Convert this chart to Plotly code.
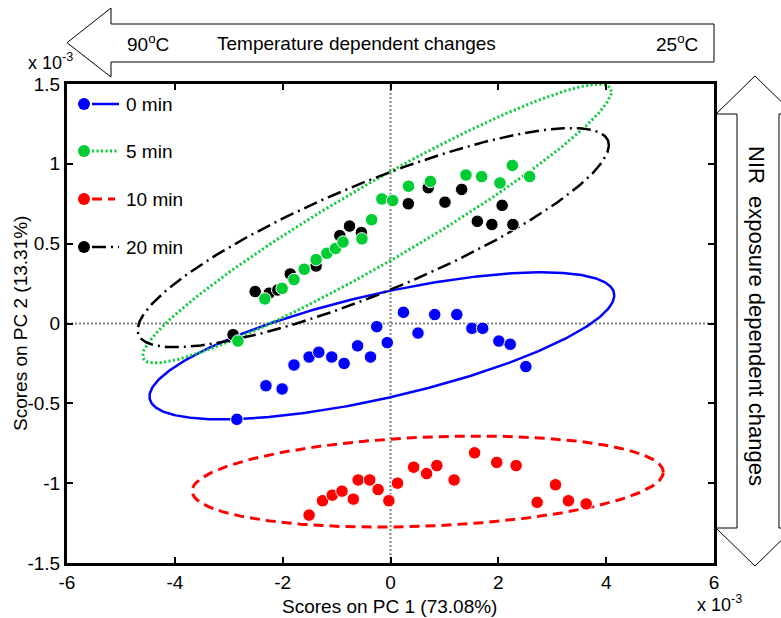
import numpy as np
import plotly.graph_objects as go

# ---------------- data (scores, units of 1e-3) ----------------
x_0min = [-2.85, -2.31, -2.01, -1.79, -1.51, -1.33, -1.09, -0.86, -0.61, -0.37, -0.255,
          -0.06, 0.24, 0.51, 0.82, 1.23, 1.51, 1.71, 2.01, 2.22, 2.51]
y_0min = [-0.60, -0.39, -0.41, -0.26, -0.21, -0.18, -0.21, -0.25, -0.14, -0.21, -0.02,
          -0.12, 0.07, -0.06, 0.056, 0.056, -0.03, -0.03, -0.11, -0.13, -0.27]

x_5min = [-2.83, -2.33, -2.01, -1.79, -1.60, -1.38, -1.18, -1.02, -0.88, -0.53, -0.35,
          -0.16, 0.04, 0.335, 0.74, 1.40, 1.69, 2.03, 2.26, 2.58]
y_5min = [-0.11, 0.154, 0.22, 0.275, 0.34, 0.40, 0.44, 0.47, 0.51, 0.53, 0.65,
          0.78, 0.77, 0.86, 0.89, 0.93, 0.92, 0.88, 0.99, 0.92]

x_10min = [-1.51, -1.26, -1.08, -0.90, -0.69, -0.60, -0.385, -0.23, -0.03, 0.13, 0.43,
           0.67, 0.86, 1.18, 1.56, 1.97, 2.33, 2.72, 3.06, 3.30, 3.63]
y_10min = [-1.20, -1.11, -1.075, -1.05, -1.10, -0.98, -0.98, -1.04, -1.11, -1.00, -0.90,
           -0.94, -0.89, -0.98, -0.81, -0.87, -0.89, -1.12, -1.01, -1.11, -1.13]

x_20min = [-2.92, -2.51, -2.25, -2.09, -1.86, -1.38, -0.94, -0.76, -0.54, 0.33, 0.70,
           1.01, 1.32, 1.61, 1.88, 2.07, 2.27]
y_20min = [-0.07, 0.20, 0.19, 0.21, 0.31, 0.36, 0.55, 0.61, 0.57, 0.75, 0.85,
           0.76, 0.84, 0.64, 0.62, 0.74, 0.62]

series_names = ["0 min", "5 min", "10 min", "20 min"]
series_colors = ["#0000ff", "#00cc33", "#ff0000", "#000000"]

# confidence ellipses: centre, offset of right-most point, vertical half-chord at centre
ell_cx = [-0.16, -0.25, 0.69, -0.32]
ell_cy = [-0.14, 0.626, -0.99, 0.538]
ell_dx = [4.31, 4.345, 4.37, 4.37]
ell_dy = [0.317, 0.827, 0.059, 0.578]
ell_h = [0.334, 0.28, 0.279, 0.37]
ell_dash = ["solid", "2px,2.5px", "10px,6px", "14px,5px,2px,5px"]
ell_width = [2.5, 3, 3, 2.5]

x_ticks = [-6, -4, -2, 0, 2, 4, 6]
x_ticktext = ["-6", "-4", "-2", "0", "2", "4", "6"]
y_ticks = [-1.5, -1, -0.5, 0, 0.5, 1, 1.5]
y_ticktext = ["-1.5", "-1", "-0.5", "0", "0.5", "1", "1.5"]

FONT = "Liberation Sans, Arial, sans-serif"
W, H = 781, 618
L, R, T, B = 67, 714, 84, 563


def pxx(x):
    return (x - L) / (R - L)


def pxy(y):
    return (B - y) / (B - T)


fig = go.Figure()

# ellipses
t = np.linspace(0, 2 * np.pi, 400)
for i in range(4):
    ex = ell_cx[i] + ell_dx[i] * np.cos(t)
    ey = ell_cy[i] + ell_dy[i] * np.cos(t) + ell_h[i] * np.sin(t)
    fig.add_trace(go.Scatter(x=ex, y=ey, mode="lines",
                             line=dict(color=series_colors[i], width=ell_width[i], dash=ell_dash[i]),
                             hoverinfo="skip", showlegend=False))

# points (black first, green over it)
pts = [(x_20min, y_20min, 3), (x_5min, y_5min, 1), (x_0min, y_0min, 0), (x_10min, y_10min, 2)]
for xs, ys, i in pts:
    fig.add_trace(go.Scatter(x=xs, y=ys, mode="markers", name=series_names[i],
                             marker=dict(size=12.5, color=series_colors[i],
                                         line=dict(color="white", width=1)),
                             showlegend=False))

shapes = []
# dotted zero lines
shapes.append(dict(type="line", xref="x", yref="paper", x0=0, x1=0, y0=0, y1=1,
                   line=dict(color="#808080", width=2, dash="2px,2px"), layer="below"))
shapes.append(dict(type="line", xref="paper", yref="y", x0=0, x1=1, y0=0, y1=0,
                   line=dict(color="#808080", width=2, dash="2px,2px"), layer="below"))

# manual legend
leg_rows = [104, 151, 199, 247]
leg_line_end = [119, 118, 115, 119]
for i in range(4):
    yy = pxy(leg_rows[i])
    shapes.append(dict(type="line", xref="paper", yref="paper", x0=pxx(92), x1=pxx(leg_line_end[i]),
                       y0=yy, y1=yy, line=dict(color=series_colors[i], width=ell_width[i],
                                               dash=ell_dash[i])))
    shapes.append(dict(type="circle", xref="paper", yref="paper", xsizemode="pixel",
                       ysizemode="pixel", xanchor=pxx(84), yanchor=yy, x0=-6, x1=6, y0=-6, y1=6,
                       fillcolor=series_colors[i], line=dict(color=series_colors[i], width=0)))

# top arrow (left-pointing)
ta = [(67, 42.7), (111, 8), (111, 24), (714, 24), (714, 62), (111, 62), (111, 77)]
path = "M " + " L ".join(f"{pxx(a)},{pxy(b)}" for a, b in ta) + " Z"
shapes.append(dict(type="path", xref="paper", yref="paper", path=path,
                   line=dict(color="black", width=1), fillcolor="white"))

# right arrow (double-headed, vertical)
ra = [(755, 76), (794, 114), (779, 114), (779, 528), (794, 528), (755, 566),
      (716, 528), (737, 528), (737, 114), (716, 114)]
path = "M " + " L ".join(f"{pxx(a)},{pxy(b)}" for a, b in ra) + " Z"
shapes.append(dict(type="path", xref="paper", yref="paper", path=path,
                   line=dict(color="black", width=1), fillcolor="white"))

ann = []
for i in range(4):
    ann.append(dict(xref="paper", yref="paper", x=pxx(124), y=pxy(leg_rows[i]), xanchor="left",
                    yanchor="middle", text=series_names[i], showarrow=False,
                    font=dict(family=FONT, size=19, color="black")))


def txt(x, y, s, size=19, angle=0, xanchor="center"):
    ann.append(dict(xref="paper", yref="paper", x=pxx(x), y=pxy(y), text=s, showarrow=False,
                    xanchor=xanchor, yanchor="middle", textangle=angle,
                    font=dict(family=FONT, size=size, color="black")))


txt(148, 43, "90<sup>o</sup>C")
txt(356, 43, "Temperature dependent changes")
txt(677, 43, "25<sup>o</sup>C")
txt(757, 316, "NIR  exposure dependent changes", size=22, angle=90)
txt(50, 62, "x 10<sup>-3</sup>", size=18)
txt(719, 603, "x 10<sup>-3</sup>", size=18)
txt(389, 606, "Scores on PC 1 (73.08%)")
txt(20, 324, "Scores on PC 2 (13.31%)", angle=-90)

fig.update_layout(
    width=W, height=H,
    margin=dict(l=L, r=W - R, t=T, b=H - B, pad=0),
    paper_bgcolor="white", plot_bgcolor="white",
    shapes=shapes, annotations=ann, showlegend=False,
    font=dict(family=FONT, size=19, color="black"),
)
fig.update_xaxes(range=[-6, 6], tickvals=x_ticks, ticktext=x_ticktext, ticks="inside", ticklen=6,
                 tickwidth=2, tickcolor="black", showline=True, linewidth=3, linecolor="black",
                 mirror="ticks", showgrid=False, zeroline=False, tickfont=dict(family=FONT, size=19))
fig.update_yaxes(range=[-1.5, 1.5], tickvals=y_ticks, ticktext=y_ticktext, ticks="inside",
                 ticklen=6, tickwidth=2, tickcolor="black", showline=True, linewidth=3,
                 linecolor="black", mirror="ticks", showgrid=False, zeroline=False,
                 tickfont=dict(family=FONT, size=19))

fig.write_html("out.html")
